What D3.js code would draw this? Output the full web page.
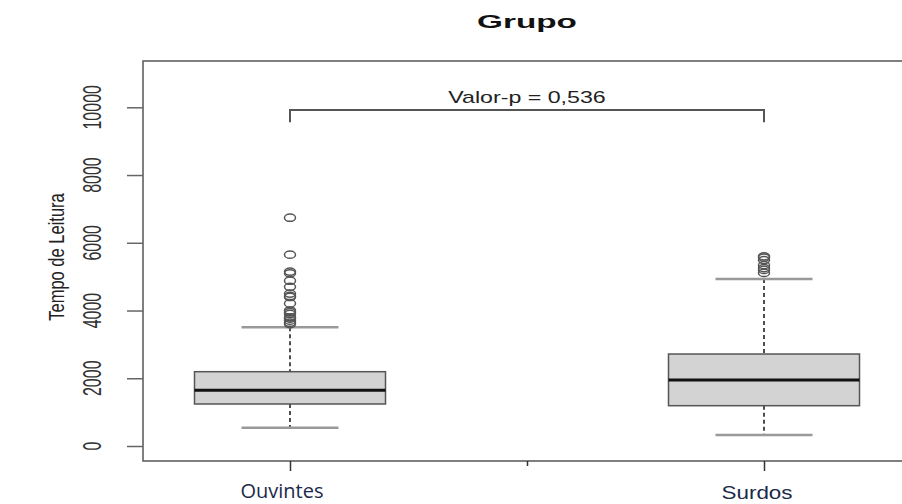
<!DOCTYPE html>
<html><head><meta charset="utf-8">
<script src="https://cdn.jsdelivr.net/npm/d3@7"></script>
<style>body{margin:0;background:#fff}svg{display:block}</style>
</head><body>
<svg id="c" width="902" height="504"></svg>
<script>
const categories = ["Ouvintes", "Surdos"];
const lowerWhisker = [540, 325];
const q1 = [1240, 1190];
const median = [1644, 1949];
const q3 = [2194, 2716];
const upperWhisker = [3505, 4931];
const outliers = [
  [6740, 5650, 5150, 5100, 4880, 4700, 4500, 4430, 4400, 4210, 4000, 3950, 3900, 3800, 3760, 3700, 3640, 3600],
  [5600, 5560, 5490, 5340, 5250, 5200, 5110]
];
const yTicks = [0, 2000, 4000, 6000, 8000, 10000];
const title = "Grupo";
const yLabel = "Tempo de Leitura";
const pLabel = "Valor-p = 0,536";
const bracketTop = 9920, bracketBottom = 9560;

const svg = d3.select("#c");
const frame = {left: 143, top: 61, bottom: 461, right: 911};
const x = d3.scaleLinear().domain([1, 2]).range([290, 764]);
const y = d3.scaleLinear().domain([0, 10000]).range([446, 107.3]);
const boxW = 191, capW = 97;
const sx = 1.65;

// frame
svg.append("rect").attr("x", frame.left).attr("y", frame.top)
  .attr("width", frame.right - frame.left).attr("height", frame.bottom - frame.top)
  .attr("fill", "none").attr("stroke", "#555").attr("stroke-width", 1.5);

// y axis
const yAxis = svg.append("g").attr("transform", `translate(${frame.left},0)`)
  .call(d3.axisLeft(y).tickValues(yTicks).tickSize(16).tickFormat(""));
yAxis.select(".domain").remove();
yAxis.selectAll("line").attr("stroke", "#666").attr("stroke-width", 1.5);
svg.selectAll(".ylab").data(yTicks).join("text")
  .attr("transform", d => `translate(101,${y(d)}) scale(${sx},1) rotate(-90)`)
  .attr("text-anchor", "middle")
  .attr("font-family", "Liberation Sans, Arial, sans-serif")
  .attr("font-size", 16).attr("fill", "#333")
  .text(d => d);

// x axis ticks
const xAxis = svg.append("g").attr("transform", `translate(0,${frame.bottom})`)
  .call(d3.axisBottom(x).tickValues([1, 2]).tickSize(10).tickFormat(""));
xAxis.select(".domain").remove();
xAxis.selectAll("line").attr("stroke", "#333").attr("stroke-width", 1.5);
const xAxisMid = svg.append("g").attr("transform", `translate(0,${frame.bottom})`)
  .call(d3.axisBottom(x).tickValues([1.5]).tickSize(5).tickFormat(""));
xAxisMid.select(".domain").remove();
xAxisMid.selectAll("line").attr("stroke", "#333").attr("stroke-width", 1.5);

// x labels
svg.append("text").attr("x", x(1) - 8).attr("y", 498).attr("text-anchor", "middle")
  .attr("font-family", "Open Sans, sans-serif").attr("font-size", 20).attr("fill", "#1a2a4a")
  .text(categories[0]);
svg.append("text").attr("transform", `translate(${x(2) - 7},499) scale(1.18,1)`).attr("text-anchor", "middle")
  .attr("font-family", "Liberation Sans, Arial, sans-serif").attr("font-size", 19).attr("fill", "#1a2a4a")
  .text(categories[1]);

// boxes
categories.forEach((c, i) => {
  const cx = x(i + 1);
  const g = svg.append("g");
  g.append("line").attr("x1", cx).attr("x2", cx).attr("y1", y(upperWhisker[i])).attr("y2", y(q3[i]))
    .attr("stroke", "#222").attr("stroke-width", 1.6).attr("stroke-dasharray", "4,3");
  g.append("line").attr("x1", cx).attr("x2", cx).attr("y1", y(q1[i])).attr("y2", y(lowerWhisker[i]))
    .attr("stroke", "#222").attr("stroke-width", 1.6).attr("stroke-dasharray", "4,3");
  [upperWhisker[i], lowerWhisker[i]].forEach(v => {
    g.append("line").attr("x1", cx - capW / 2).attr("x2", cx + capW / 2).attr("y1", y(v)).attr("y2", y(v))
      .attr("stroke", "#999").attr("stroke-width", 2.5);
  });
  g.append("rect").attr("x", cx - boxW / 2).attr("y", y(q3[i])).attr("width", boxW)
    .attr("height", y(q1[i]) - y(q3[i])).attr("fill", "#d3d3d3").attr("stroke", "#555").attr("stroke-width", 1.5);
  g.append("line").attr("x1", cx - boxW / 2).attr("x2", cx + boxW / 2).attr("y1", y(median[i])).attr("y2", y(median[i]))
    .attr("stroke", "#111").attr("stroke-width", 3);
  g.selectAll("ellipse").data(outliers[i]).join("ellipse")
    .attr("cx", cx).attr("cy", d => y(d)).attr("rx", 5.5).attr("ry", 3.6)
    .attr("fill", "none").attr("stroke", "#555").attr("stroke-width", 1.5);
});

// bracket
svg.append("path")
  .attr("d", `M${x(1)},${y(bracketBottom)}V${y(bracketTop)}H${x(2)}V${y(bracketBottom)}`)
  .attr("fill", "none").attr("stroke", "#555").attr("stroke-width", 2);
svg.append("text").attr("transform", `translate(${(x(1) + x(2)) / 2},103) scale(1.45,1)`).attr("text-anchor", "middle")
  .attr("font-family", "Liberation Sans, Arial, sans-serif").attr("font-size", 16).attr("fill", "#222")
  .text(pLabel);

// title
svg.append("text").attr("transform", `translate(527,28) scale(1.85,1)`).attr("text-anchor", "middle")
  .attr("font-family", "Liberation Sans, Arial, sans-serif").attr("font-weight", "bold").attr("font-size", 18).attr("fill", "#111")
  .text(title);

// y label
svg.append("text").attr("transform", `translate(64,257) scale(1.35,1) rotate(-90)`).attr("text-anchor", "middle")
  .attr("font-family", "Liberation Sans, Arial, sans-serif").attr("font-size", 16.5).attr("fill", "#222")
  .text(yLabel);
</script>
</body></html>
